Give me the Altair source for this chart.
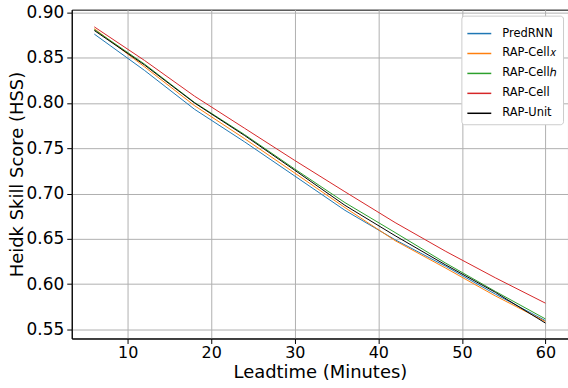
import altair as alt
import pandas as pd

leadtime = [6, 12, 18, 24, 30, 36, 42, 48, 54, 60]
series_names = ["PredRNN", "RAP-Cell𝑥", "RAP-Cellℎ", "RAP-Cell", "RAP-Unit"]
predrnn = [0.876, 0.836, 0.793, 0.757, 0.7193, 0.6815, 0.649, 0.620, 0.589, 0.5597]
rap_cellx = [0.882, 0.840, 0.797, 0.7605, 0.7226, 0.6845, 0.648, 0.618, 0.587, 0.5587]
rap_cellh = [0.881, 0.843, 0.8005, 0.765, 0.727, 0.690, 0.657, 0.6235, 0.592, 0.5616]
rap_cell = [0.884, 0.847, 0.8075, 0.772, 0.7365, 0.702, 0.668, 0.6365, 0.607, 0.579]
rap_unit = [0.880, 0.842, 0.800, 0.764, 0.7257, 0.687, 0.6535, 0.6215, 0.591, 0.557]
colors = ["#1f77b4", "#ff7f0e", "#2ca02c", "#d62728", "#000000"]
y_ticks = [0.55, 0.60, 0.65, 0.70, 0.75, 0.80, 0.85, 0.90]
x_ticks = [10, 20, 30, 40, 50, 60]

rows = []
for name, vals in zip(series_names, [predrnn, rap_cellx, rap_cellh, rap_cell, rap_unit]):
    for t, v in zip(leadtime, vals):
        rows.append({"t": t, "hss": v, "model": name, "order": series_names.index(name)})
df = pd.DataFrame(rows)

font = "DejaVu Sans"

chart = alt.Chart(df).mark_line(strokeWidth=1, clip=True).encode(
    x=alt.X("t:Q", scale=alt.Scale(domain=[3.3, 62.7], nice=False, zero=False),
            axis=alt.Axis(values=x_ticks, title="Leadtime (Minutes)", format="d",
                          titleX=249, titleY=25, labelFontSize=16)),
    y=alt.Y("hss:Q", scale=alt.Scale(domain=[0.540, 0.903], nice=False, zero=False),
            axis=alt.Axis(values=y_ticks, title="Heidk Skill Score (HSS)", format=".2f",
                          titleX=-45, titleY=165)),
    color=alt.Color("model:N", scale=alt.Scale(domain=series_names, range=colors),
                    legend=alt.Legend(title=None, orient="none", legendX=391, legendY=6)),
    detail="order:O",
).properties(
    width=498, height=330,
    autosize=alt.AutoSizeParams(type="none"),
    padding={"left": 72, "top": 9, "right": 0, "bottom": 49},
).configure_view(
    stroke="#000000", strokeWidth=1,
).configure_axis(
    labelFont=font, titleFont=font, labelFontSize=17, titleFontSize=18,
    titleFontWeight="normal", labelColor="#000", titleColor="#000",
    domainColor="#000", tickColor="#000", tickSize=5, domainWidth=1,
    gridColor="#b0b0b0", gridWidth=1, gridOpacity=1,
).configure_axisY(
    labelPadding=3,
).configure_axisX(
    labelPadding=1,
).configure_legend(
    labelFont=font, labelFontSize=11.5, labelColor="#000",
    symbolType="stroke", symbolSize=576, symbolStrokeWidth=1.5,
    strokeColor="#cccccc", fillColor="white", cornerRadius=3, padding=5,
    rowPadding=1, labelOffset=10,
)

chart.save("out.html", embed_options={"renderer": "svg", "actions": False})
